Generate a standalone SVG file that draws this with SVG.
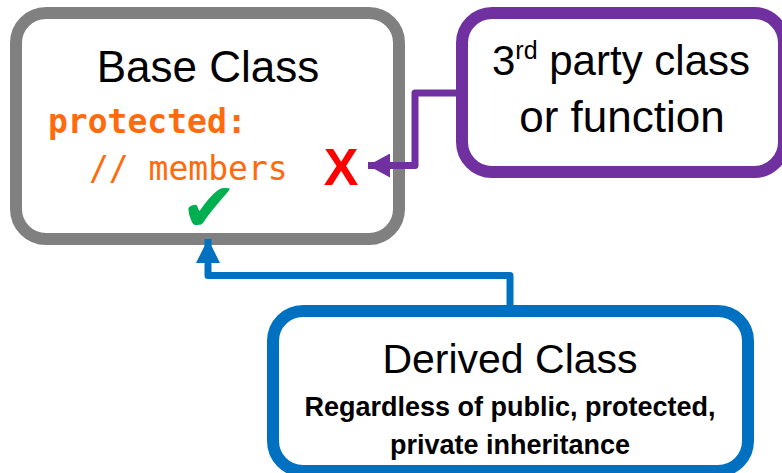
<svg xmlns="http://www.w3.org/2000/svg" width="782" height="473" viewBox="0 0 782 473">
<style>
.box{fill:#fff;stroke-width:12}
.t{font-family:"Liberation Sans",Arial,sans-serif;fill:#000}
.mono{font-family:"DejaVu Sans Mono","Liberation Mono",monospace;fill:#FF6A0D;font-size:33px}
.conn{fill:none;stroke-width:7;stroke-linejoin:round}
</style>
<defs>
<marker id="ap" viewBox="0 0 22 24" refX="22" refY="12" markerWidth="22" markerHeight="24" markerUnits="userSpaceOnUse" orient="auto">
<path d="M0,0 L22,12 L0,24 Z" fill="#7030A0"/>
</marker>
<marker id="ab" viewBox="0 0 24 24" refX="24" refY="12" markerWidth="24" markerHeight="24" markerUnits="userSpaceOnUse" orient="auto">
<path d="M0,0 L24,12 L0,24 Z" fill="#0070C0"/>
</marker>
</defs>
<g id="base">
<rect class="box" x="16" y="13" width="383" height="226" rx="30" stroke="#808080"/>
<text class="t" x="208" y="82" font-size="44" text-anchor="middle">Base Class</text>
<text class="mono" x="48" y="133" font-weight="bold">protected:</text>
<text class="mono" x="89" y="180">// members</text>
<text x="341" y="185" font-family="Liberation Sans,Arial,sans-serif" font-weight="bold" font-size="52" fill="#FF0000" text-anchor="middle">X</text>
<text x="209" y="231" font-family="DejaVu Sans,sans-serif" font-size="68" fill="#00B050" text-anchor="middle">✔</text>
</g>
<g id="third">
<rect class="box" x="462" y="13" width="322" height="159" rx="30" stroke="#7030A0"/>
<text class="t" x="492" y="75" font-size="42">3<tspan font-size="25" dy="-16">rd</tspan><tspan dy="16"> party class</tspan></text>
<text class="t" x="622" y="132" font-size="44" text-anchor="middle">or function</text>
</g>
<g id="derived">
<rect class="box" x="273" y="311" width="475" height="160" rx="30" stroke="#0070C0"/>
<text class="t" x="510" y="373" font-size="41" text-anchor="middle">Derived Class</text>
<text class="t" x="510" y="416" font-size="27" font-weight="bold" text-anchor="middle">Regardless of public, protected,</text>
<text class="t" x="510" y="454" font-size="27" font-weight="bold" text-anchor="middle">private inheritance</text>
</g>
<g id="connectors">
<path class="conn" d="M457,93 H415 V165.5 H368" stroke="#7030A0" marker-end="url(#ap)"/>
<path class="conn" d="M510,306 V275.5 H208 V239" stroke="#0070C0" marker-end="url(#ab)"/>
</g>
</svg>
